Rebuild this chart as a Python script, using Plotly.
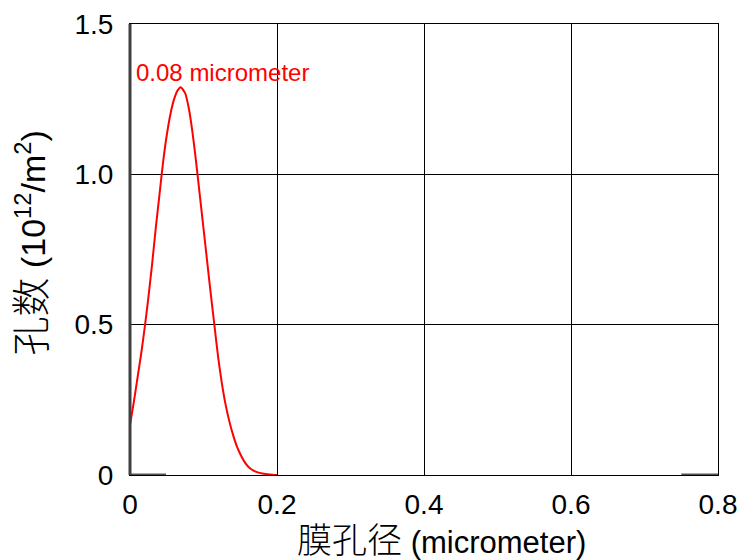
import plotly.graph_objects as go

# Data
pore_x = [0, 0.005, 0.010, 0.015, 0.020, 0.025, 0.030, 0.035, 0.040, 0.045, 0.050, 0.055,
          0.060, 0.065, 0.069, 0.075, 0.080, 0.085, 0.090, 0.095, 0.100, 0.105, 0.110,
          0.115, 0.120, 0.125, 0.130, 0.135, 0.140, 0.145, 0.150, 0.155, 0.160, 0.165,
          0.170, 0.175, 0.180, 0.190, 0.200]
pore_y = [0.166, 0.24, 0.32, 0.40, 0.49, 0.59, 0.70, 0.82, 0.93, 1.04, 1.13, 1.20,
          1.25, 1.28, 1.29, 1.27, 1.22, 1.14, 1.04, 0.93, 0.82, 0.71, 0.60,
          0.495, 0.39, 0.305, 0.235, 0.18, 0.135, 0.098, 0.07, 0.047, 0.030, 0.019,
          0.012, 0.008, 0.005, 0.002, 0.0]
base_left_x = [0, 0.049]
base_right_x = [0.75, 0.8]
base_y = [0, 0]

x_ticks = [0, 0.2, 0.4, 0.6, 0.8]
x_labels = ["0", "0.2", "0.4", "0.6", "0.8"]
y_ticks = [0, 0.5, 1.0, 1.5]
y_labels = ["0", "0.5", "1.0", "1.5"]

x_title = '<span style="font-size:35px;font-weight:300">膜孔径</span> (micrometer)'
y_title = '<span style="font-size:39px;font-weight:300">孔数</span> (10<sup>12</sup>/m<sup>2</sup>)'

fig = go.Figure()
for bx in (base_left_x, base_right_x):
    fig.add_trace(go.Scatter(x=bx, y=base_y, mode="lines",
                             line=dict(color="#555555", width=3), showlegend=False, hoverinfo="skip"))
fig.add_trace(go.Scatter(x=pore_x, y=pore_y, mode="lines",
                         line=dict(color="#ff0000", width=2, shape="spline", smoothing=0.6),
                         showlegend=False))

fig.add_annotation(x=0.006, y=1.34, text="0.08 micrometer", showarrow=False,
                   xanchor="left", yanchor="middle",
                   font=dict(color="#ff0000", size=24))

# axis titles as annotations for exact placement
fig.add_annotation(xref="paper", yref="paper", x=0.5, y=0, xshift=17, yshift=-65,
                   text=x_title, showarrow=False, xanchor="center", yanchor="middle",
                   font=dict(size=31, color="black"))
fig.add_annotation(xref="paper", yref="paper", x=0, y=0.5, xshift=-100, yshift=6,
                   text=y_title, showarrow=False, xanchor="center", yanchor="middle",
                   textangle=-90, font=dict(size=34, color="black"))

fig.update_layout(
    width=746, height=560,
    margin=dict(l=122, r=36, t=16, b=93),
    paper_bgcolor="white", plot_bgcolor="white",
    font=dict(family="Liberation Sans, Arial, Noto Sans CJK SC, sans-serif", color="black", size=28),
    xaxis=dict(range=[0, 0.8], tickvals=x_ticks, ticktext=x_labels,
               showgrid=True, gridcolor="black", gridwidth=1,
               showline=True, linecolor="black", linewidth=1, mirror=True,
               zeroline=False, ticks="", ticklen=0, automargin=False,
               tickfont=dict(size=28), ticklabelstandoff=4),
    yaxis=dict(range=[0, 1.5], tickvals=y_ticks, ticktext=y_labels,
               showgrid=True, gridcolor="black", gridwidth=1,
               showline=True, linecolor="black", linewidth=1, mirror=True,
               zeroline=False, ticks="", ticklen=0, automargin=False,
               tickfont=dict(size=28), ticklabelstandoff=10),
)
fig.add_shape(type="line", xref="paper", yref="paper", x0=0, x1=0, y0=0, y1=1,
              line=dict(color="#404040", width=3))

fig.write_html("out.html")
